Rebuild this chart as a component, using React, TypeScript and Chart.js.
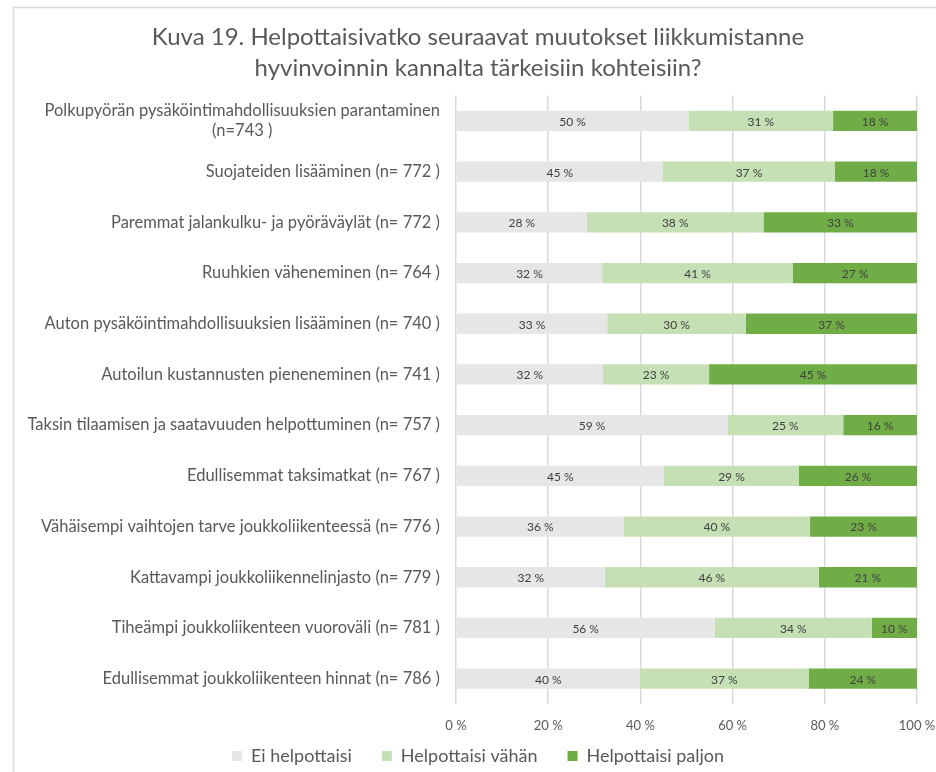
import React, { useEffect, useRef } from "react";
import { Chart, registerables } from "chart.js";

Chart.register(...registerables);

const titleLines = [
  "Kuva 19. Helpottaisivatko seuraavat muutokset liikkumistanne",
  "hyvinvoinnin kannalta tärkeisiin kohteisiin?",
];

const categories: string[][] = [
  ["Polkupyörän pysäköintimahdollisuuksien parantaminen", "(n=743 )"],
  ["Suojateiden lisääminen (n= 772 )"],
  ["Paremmat jalankulku- ja pyöräväylät (n= 772 )"],
  ["Ruuhkien väheneminen (n= 764 )"],
  ["Auton pysäköintimahdollisuuksien lisääminen (n= 740 )"],
  ["Autoilun kustannusten pieneneminen (n= 741 )"],
  ["Taksin tilaamisen ja saatavuuden helpottuminen (n= 757 )"],
  ["Edullisemmat taksimatkat (n= 767 )"],
  ["Vähäisempi vaihtojen tarve joukkoliikenteessä (n= 776 )"],
  ["Kattavampi joukkoliikennelinjasto (n= 779 )"],
  ["Tiheämpi joukkoliikenteen vuoroväli (n= 781 )"],
  ["Edullisemmat joukkoliikenteen hinnat (n= 786 )"],
];

const seriesNames = ["Ei helpottaisi", "Helpottaisi vähän", "Helpottaisi paljon"];

const eiHelpottaisi = [50.4, 44.9, 28.4, 31.7, 32.8, 31.9, 58.9, 45.1, 36.4, 32.3, 56.1, 39.9];
const helpottaisiVahan = [31.4, 37.3, 38.3, 41.4, 30.1, 23.0, 25.1, 29.3, 40.4, 46.4, 34.1, 36.6];
const helpottaisiPaljon = [18.2, 17.8, 33.3, 26.9, 37.1, 45.1, 16.0, 25.6, 23.2, 21.3, 9.8, 23.5];

const xTicks = [0, 20, 40, 60, 80, 100];

const FONT = "Lato";
const TEXT = "#595959";
const PAD_LEFT = 39;
const LEGEND_SHIFT = 19;

export default function App() {
  const ref = useRef<HTMLCanvasElement | null>(null);

  useEffect(() => {
    document.body.style.margin = "0";
    const canvas = ref.current;
    if (!canvas) return;

    const bgPlugin = {
      id: "bgBorder",
      beforeDraw(chart: any) {
        const { ctx, width, height } = chart;
        ctx.save();
        ctx.fillStyle = "#ffffff";
        ctx.fillRect(0, 0, width, height);
        ctx.strokeStyle = "#D9D9D9";
        ctx.lineWidth = 1.5;
        ctx.strokeRect(13.5, 7.5, width + 20, height + 20);
        ctx.restore();
      },
    };

    const legendShiftPlugin = {
      id: "legendShift",
      afterLayout(chart: any) {
        if (chart.legend) {
          chart.legend.top -= LEGEND_SHIFT;
          chart.legend.bottom -= LEGEND_SHIFT;
        }
      },
    };

    const yLabelPlugin = {
      id: "yLabels",
      afterDraw(chart: any) {
        const { ctx } = chart;
        const yScale = chart.scales.y;
        const right = chart.chartArea.left - 16;
        ctx.save();
        ctx.font = `16.5px ${FONT}`;
        ctx.fillStyle = TEXT;
        ctx.textBaseline = "middle";
        ctx.textAlign = "center";
        const lh = 20;
        categories.forEach((lines, i) => {
          const y = yScale.getPixelForTick(i);
          const maxW = Math.max(...lines.map((l) => ctx.measureText(l).width));
          const cx = right - maxW / 2;
          const y0 = y - ((lines.length - 1) * lh) / 2;
          lines.forEach((l, j) => ctx.fillText(l, cx, y0 + j * lh));
        });
        ctx.restore();
      },
    };

    const dataLabelPlugin = {
      id: "dataLabels",
      afterDatasetsDraw(chart: any) {
        const { ctx } = chart;
        ctx.save();
        ctx.font = `12px ${FONT}`;
        ctx.fillStyle = "#404040";
        ctx.textAlign = "center";
        ctx.textBaseline = "middle";
        chart.data.datasets.forEach((ds: any, di: number) => {
          const meta = chart.getDatasetMeta(di);
          meta.data.forEach((el: any, i: number) => {
            const v = ds.data[i];
            ctx.fillText(`${Math.round(v)} %`, (el.x + el.base) / 2, el.y + 1);
          });
        });
        ctx.restore();
      },
    };

    const chart = new Chart(canvas, {
      type: "bar",
      data: {
        labels: categories.map((c) => c.join(" ")),
        datasets: [
          { label: seriesNames[0], data: eiHelpottaisi, backgroundColor: "#E7E6E6" },
          { label: seriesNames[1], data: helpottaisiVahan, backgroundColor: "#C5E0B4" },
          { label: seriesNames[2], data: helpottaisiPaljon, backgroundColor: "#70AD47" },
        ],
      },
      options: {
        indexAxis: "y",
        responsive: false,
        animation: false,
        devicePixelRatio: 1,
        datasets: { bar: { barPercentage: 0.4, categoryPercentage: 1, borderWidth: 0 } },
        layout: { padding: { left: PAD_LEFT, right: 19, top: 0, bottom: -22 } },
        scales: {
          x: {
            stacked: true,
            min: 0,
            max: 100,
            afterBuildTicks(scale: any) {
              scale.ticks = xTicks.map((v) => ({ value: v }));
            },
            afterFit(scale: any) {
              scale.height = 32;
              scale.paddingLeft = 0;
              scale.paddingRight = 0;
            },
            grid: { color: "#D9D9D9", drawTicks: false, lineWidth: 1.5 },
            border: { display: false },
            ticks: {
              padding: 14,
              color: TEXT,
              font: { family: FONT, size: 13 },
              callback: (v: any) => `${v} %`,
            },
          },
          y: {
            stacked: true,
            grid: { display: false, drawTicks: false },
            border: { display: false },
            ticks: { display: false },
            afterFit(scale: any) {
              scale.width = 456 - PAD_LEFT;
            },
          },
        },
        plugins: {
          title: {
            display: true,
            text: titleLines,
            color: TEXT,
            font: { family: FONT, size: 24, weight: "normal", lineHeight: 1.3 },
            padding: { top: 21.4, bottom: 11.8 },
          },
          legend: {
            position: "bottom",
            labels: {
              boxWidth: 10,
              boxHeight: 10,
              padding: 30,
              color: TEXT,
              font: { family: FONT, size: 18 },
            },
          },
          tooltip: { enabled: false },
        },
      },
      plugins: [bgPlugin, legendShiftPlugin, yLabelPlugin, dataLabelPlugin],
    } as any);

    return () => chart.destroy();
  }, []);

  return <canvas ref={ref} width={936} height={772} style={{ display: "block" }} />;
}
